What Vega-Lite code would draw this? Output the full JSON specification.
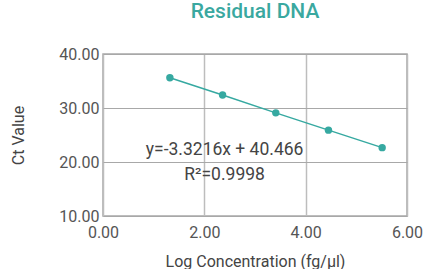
{
  "$schema": "https://vega.github.io/schema/vega-lite/v6.json",
  "autosize": "none",
  "width": 304,
  "height": 162,
  "padding": {"left": 103, "top": 54, "right": 18, "bottom": 53},
  "background": "white",
  "config": {
    "font": "Roboto",
    "view": {"stroke": "#a8a8a8", "strokeWidth": 1.5}
  },
  "title": {
    "text": "Residual DNA",
    "color": "#3aa8a0",
    "fontSize": 21,
    "fontWeight": 500,
    "font": "Roboto",
    "anchor": "middle",
    "offset": 24
  },
  "datasets": {
    "points": [
      {"logc": 1.32, "ct": 35.6},
      {"logc": 2.36, "ct": 32.4},
      {"logc": 3.41, "ct": 29.1},
      {"logc": 4.45, "ct": 25.9},
      {"logc": 5.51, "ct": 22.66}
    ],
    "labels": [
      {"logc": 2.4, "ct": 22.2, "text": "y=-3.3216x + 40.466"},
      {"logc": 2.4, "ct": 17.6, "text": "R²=0.9998"}
    ]
  },
  "layer": [
    {
      "data": {"name": "points"},
      "mark": {"type": "line", "color": "#36a9a1", "strokeWidth": 1.5},
      "encoding": {
        "x": {
          "field": "logc", "type": "quantitative",
          "scale": {"domain": [0, 6], "nice": false},
          "axis": {
            "values": [0, 2, 4, 6], "format": ".2f",
            "title": "Log Concentration (fg/μl)",
            "titleFontSize": 16, "titleFontWeight": "normal", "titleColor": "#444",
            "titleY": 45, "titleBaseline": "middle",
            "labelFontSize": 16, "labelColor": "#555", "labelPadding": 8,
            "labelFlush": false,
            "ticks": false, "domain": false,
            "gridColor": "#bdbdbd", "gridWidth": 1.5
          }
        },
        "y": {
          "field": "ct", "type": "quantitative",
          "scale": {"domain": [10, 40], "nice": false, "zero": false},
          "axis": {
            "values": [10, 20, 30, 40], "format": ".2f",
            "title": "Ct Value",
            "titleFontSize": 16, "titleFontWeight": "normal", "titleColor": "#444",
            "titleX": -85, "titleBaseline": "middle", "titleAlign": "center",
            "labelFontSize": 16, "labelColor": "#555", "labelPadding": 4,
            "labelFlush": false,
            "ticks": false, "domain": false,
            "gridColor": "#a8a8a8", "gridWidth": 1.2
          }
        }
      }
    },
    {
      "data": {"name": "points"},
      "mark": {"type": "point", "filled": true, "color": "#36a9a1", "size": 55, "opacity": 1},
      "encoding": {
        "x": {"field": "logc", "type": "quantitative"},
        "y": {"field": "ct", "type": "quantitative"}
      }
    },
    {
      "data": {"name": "labels"},
      "mark": {"type": "text", "fontSize": 17.5, "color": "#444", "align": "center", "baseline": "middle"},
      "encoding": {
        "x": {"field": "logc", "type": "quantitative"},
        "y": {"field": "ct", "type": "quantitative"},
        "text": {"field": "text"}
      }
    }
  ]
}
